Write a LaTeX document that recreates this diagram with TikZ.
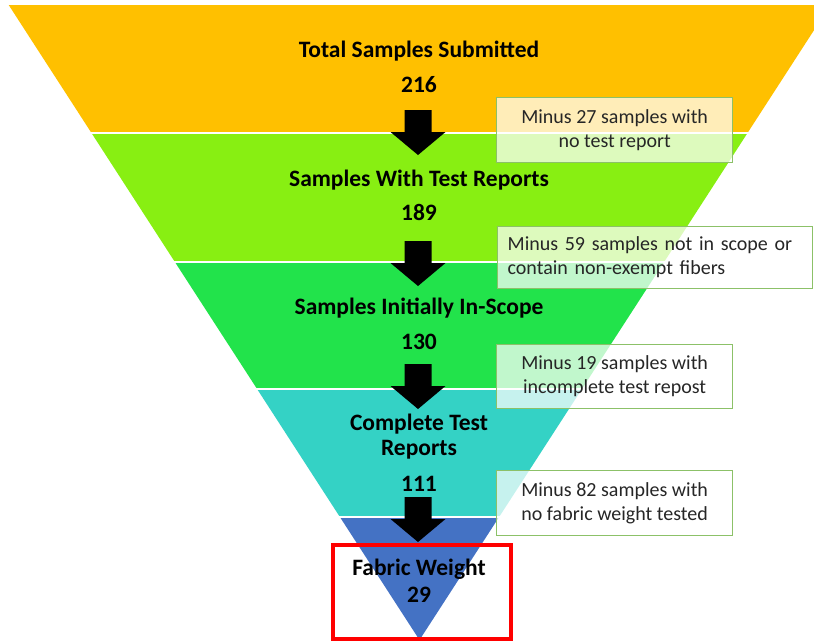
\documentclass[tikz,border=0pt]{standalone}
\usepackage{fontspec}
\setmainfont{Carlito}
\definecolor{cOrange}{HTML}{FFC000}
\definecolor{cLime}{HTML}{88EF12}
\definecolor{cGreen}{HTML}{22E34B}
\definecolor{cTeal}{HTML}{34D2C5}
\definecolor{cBlue}{HTML}{4472C4}
\definecolor{cBorder}{HTML}{8CC168}
\definecolor{cText}{HTML}{262626}
\newcommand\funnelarrow[2]{\fill[black] (#1-13.5,#2) -- (#1+13.5,#2) -- (#1+13.5,#2+22) -- (#1+27.5,#2+22) -- (#1,#2+45) -- (#1-27.5,#2+22) -- (#1-13.5,#2+22) -- cycle;}
\begin{document}
\begin{tikzpicture}[x=1pt,y=-1pt,
  title/.style={font=\fontsize{23.5}{28}\selectfont\bfseries, anchor=base, inner sep=0pt},
  callout/.style={draw=cBorder, line width=1.3pt, fill=white, fill opacity=0.72, text opacity=1, text=cText, font=\fontsize{20}{24}\selectfont, inner sep=0pt, anchor=north west},
  gap/.style={white, line width=2pt}]
\useasboundingbox (0,0) rectangle (814,641);
\begin{scope}
\clip (0,0) rectangle (814,641);
\fill[cOrange] (8.7,5) -- (830.3,5) -- (747.5,133) -- (91.5,133) -- cycle;
\fill[cLime] (91.5,133) -- (747.5,133) -- (664.1,262) -- (174.9,262) -- cycle;
\fill[cGreen] (174.9,262) -- (664.1,262) -- (581.9,389) -- (257.1,389) -- cycle;
\fill[cTeal] (257.1,389) -- (581.9,389) -- (499.1,517) -- (339.9,517) -- cycle;
\fill[cBlue] (339.9,517) -- (499.1,517) -- (419.5,640) -- cycle;
\draw[gap] (80,133) -- (760,133);
\draw[gap] (160,262) -- (680,262);
\draw[gap] (240,389) -- (600,389);
\draw[gap] (320,517) -- (520,517);
\end{scope}
\funnelarrow{418}{110}
\funnelarrow{418}{241}
\funnelarrow{418}{364}
\funnelarrow{418}{497}
\node[title] (t1) at (419,57) {Total Samples Submitted};
\node[title] (n1) at (419,92) {216};
\node[title] (t2) at (419,186) {Samples With Test Reports};
\node[title] (n2) at (419,220) {189};
\node[title] (t3) at (419,314) {Samples Initially In-Scope};
\node[title] (n3) at (419,349) {130};
\node[title] (t4a) at (419,430) {Complete Test};
\node[title] (t4b) at (419,455) {Reports};
\node[title] (n4) at (419,491) {111};
\node[title] (t5) at (419,575) {Fabric Weight};
\node[title] (n5) at (419,602) {29};
\node[callout, minimum width=236pt, minimum height=65pt, align=center] (c1) at (496,97) {Minus 27 samples with\\no test report};
\node[callout, text width=295pt, inner xsep=10pt, minimum height=62pt, align=left] (c2) at (497,226) {Minus 59 samples not in scope or\\contain non-exempt fibers};
\node[callout, minimum width=236pt, minimum height=64pt, align=center] (c3) at (496,344) {Minus 19 samples with\\incomplete test repost};
\node[callout, minimum width=236pt, minimum height=65pt, align=center] (c4) at (496,470) {Minus 82 samples with\\no fabric weight tested};
\node[draw=red, line width=3.5pt, minimum width=178pt, minimum height=94pt, inner sep=0pt, anchor=north west] (fw) at (331,543) {};
\end{tikzpicture}
\end{document}
